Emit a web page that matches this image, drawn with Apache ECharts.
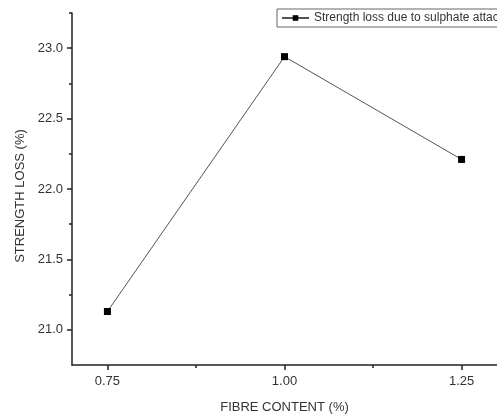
<!DOCTYPE html>
<html>
<head>
<meta charset="utf-8">
<script src="https://cdn.jsdelivr.net/npm/echarts@6/dist/echarts.min.js"></script>
<style>
html,body{margin:0;padding:0;background:#fff;}
#chart{width:497px;height:419px;}
</style>
</head>
<body>
<div id="chart"></div>
<script>
var fibreContent = [0.75, 1.00, 1.25];
var strengthLoss = [21.13, 22.94, 22.21];
var seriesName = 'Strength loss due to sulphate attack';
var xTicks = [0.75, 1.00, 1.25];
var xMinorTicks = [0.875, 1.125];
var yTicks = [21.0, 21.5, 22.0, 22.5, 23.0];
var yMinorTicks = [21.25, 21.75, 22.25, 22.75, 23.25];
var xName = 'FIBRE CONTENT (%)';
var yName = 'STRENGTH LOSS (%)';

var FONT = 'Liberation Sans, Arial, sans-serif';
var chart = echarts.init(document.getElementById('chart'), null, {renderer: 'canvas'});
var xMin = 0.70, xMax = 1.30, yMin = 20.75, yMax = 23.25;

chart.setOption({
  animation: false,
  backgroundColor: '#fff',
  grid: {left: 72, top: 13, right: -10, bottom: 51, containLabel: false},
  legend: {
    left: 277, top: 9,
    padding: [3, 4, 3, 4],
    itemWidth: 27, itemHeight: 7, itemGap: 5,
    borderColor: '#666', borderWidth: 1, borderRadius: 0,
    textStyle: {fontFamily: FONT, fontSize: 12, color: '#333'},
    data: [seriesName]
  },
  xAxis: [{
    type: 'value', min: xMin, max: xMax, position: 'bottom',
    name: xName, nameLocation: 'middle', nameGap: 36,
    nameTextStyle: {fontFamily: FONT, fontSize: 13, color: '#333'},
    axisLine: {show: true, lineStyle: {color: '#222', width: 1.5}},
    axisTick: {show: true, length: 5, inside: false, customValues: xTicks, lineStyle: {color: '#222', width: 1.5}},
    axisLabel: {show: true, customValues: xTicks, fontFamily: FONT, fontSize: 13, color: '#333', margin: 10,
      formatter: function (v) { return v.toFixed(2); }},
    splitLine: {show: false}
  }, {
    type: 'value', min: xMin, max: xMax, position: 'bottom',
    axisLine: {show: false},
    axisTick: {show: true, length: 3, customValues: xMinorTicks, lineStyle: {color: '#222', width: 1.5}},
    axisLabel: {show: false},
    splitLine: {show: false}
  }],
  yAxis: [{
    type: 'value', min: yMin, max: yMax, position: 'left',
    name: yName, nameLocation: 'middle', nameGap: 45, nameRotate: 90,
    nameTextStyle: {fontFamily: FONT, fontSize: 13, color: '#333', padding: [0, 14, 0, 0]},
    axisLine: {show: true, lineStyle: {color: '#222', width: 1.5}},
    axisTick: {show: true, length: 5, customValues: yTicks, lineStyle: {color: '#222', width: 1.5}},
    axisLabel: {show: true, customValues: yTicks, fontFamily: FONT, fontSize: 13, color: '#333', margin: 9,
      formatter: function (v) { return v.toFixed(1); }},
    splitLine: {show: false}
  }, {
    type: 'value', min: yMin, max: yMax, position: 'left',
    axisLine: {show: false},
    axisTick: {show: true, length: 3, customValues: yMinorTicks, lineStyle: {color: '#222', width: 1.5}},
    axisLabel: {show: false},
    splitLine: {show: false}
  }],
  series: [{
    name: seriesName,
    type: 'line',
    xAxisIndex: 0, yAxisIndex: 0,
    data: fibreContent.map(function (x, i) { return [x, strengthLoss[i]]; }),
    symbol: 'rect', symbolSize: 7,
    itemStyle: {color: '#000'},
    lineStyle: {color: '#555', width: 1},
    clip: false
  }]
});
</script>
</body>
</html>
